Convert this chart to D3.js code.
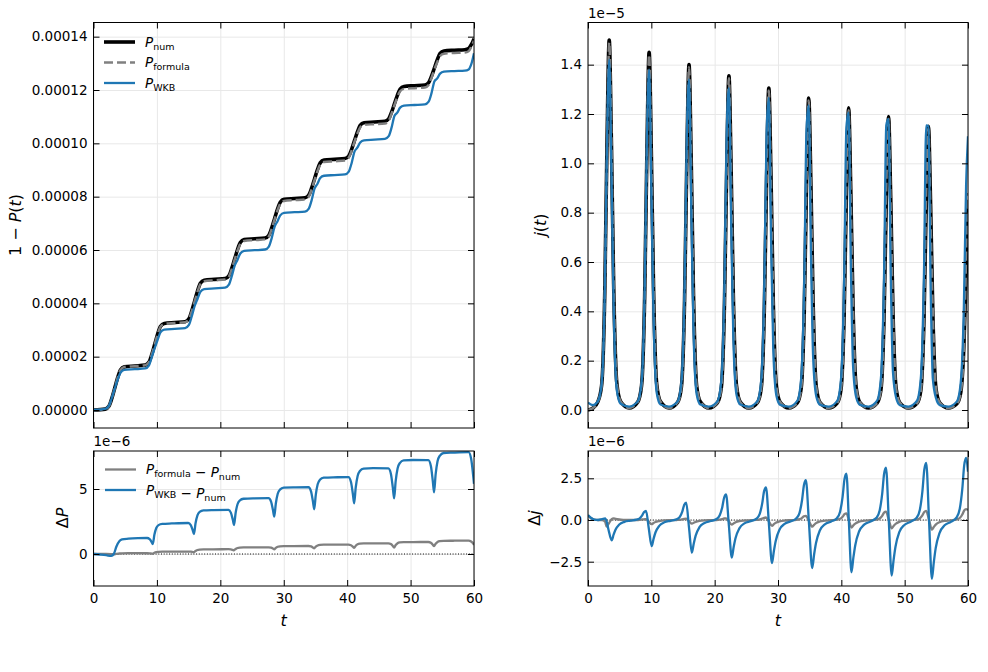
<!DOCTYPE html>
<html>
<head>
<meta charset="utf-8">
<script src="https://cdn.jsdelivr.net/npm/d3@7"></script>
<style>
  body { margin: 0; background: #fff; }
  svg text { font-family: "DejaVu Sans", sans-serif; fill: #000; }
</style>
</head>
<body>
<svg id="fig" width="988" height="672"></svg>
<script>
// ---- data ----
// survival 1-P(t), in units of 1e-5
const pTime = [0, 1.85, 2.45, 2.9, 3.35, 3.8, 4.25, 4.85, 6.5,
  8.15, 8.75, 9.2, 9.65, 10.1, 10.55, 11.15, 12.8,
  14.45, 15.05, 15.5, 15.95, 16.4, 16.85, 17.45, 19.1,
  20.75, 21.35, 21.8, 22.25, 22.7, 23.15, 23.75, 25.4,
  27.05, 27.65, 28.1, 28.55, 29.0, 29.45, 30.05, 31.7,
  33.35, 33.95, 34.4, 34.85, 35.3, 35.75, 36.35, 38.0,
  39.65, 40.25, 40.7, 41.15, 41.6, 42.05, 42.65, 44.3,
  45.95, 46.55, 47.0, 47.45, 47.9, 48.35, 48.95, 50.6,
  52.25, 52.85, 53.3, 53.75, 54.2, 54.65, 55.25, 56.9,
  58.55, 59.15, 59.6, 60.0];
const pNum = [0, 0.033, 0.149, 0.446, 0.825, 1.205, 1.502, 1.617, 1.65,
  1.683, 1.797, 2.09, 2.465, 2.84, 3.133, 3.247, 3.28,
  3.312, 3.426, 3.717, 4.09, 4.463, 4.754, 4.868, 4.90,
  4.93, 5.037, 5.31, 5.66, 6.01, 6.283, 6.39, 6.42,
  6.45, 6.556, 6.828, 7.175, 7.522, 7.794, 7.9, 7.93,
  7.959, 8.062, 8.327, 8.665, 9.003, 9.268, 9.371, 9.40,
  9.428, 9.526, 9.778, 10.1, 10.422, 10.674, 10.772, 10.80,
  10.827, 10.922, 11.167, 11.48, 11.793, 12.038, 12.133, 12.16,
  12.187, 12.28, 12.519, 12.825, 13.131, 13.37, 13.463, 13.49,
  13.51, 13.555, 13.71, 13.92];
const pFormula = [0, 0.033, 0.149, 0.446, 0.825, 1.203, 1.497, 1.611, 1.644,
  1.677, 1.792, 2.087, 2.455, 2.826, 3.116, 3.229, 3.262,
  3.294, 3.408, 3.703, 4.072, 4.436, 4.72, 4.832, 4.864,
  4.894, 5.002, 5.282, 5.628, 5.965, 6.233, 6.339, 6.369,
  6.399, 6.508, 6.789, 7.14, 7.475, 7.739, 7.84, 7.869,
  7.898, 8.004, 8.282, 8.621, 8.945, 9.203, 9.3, 9.328,
  9.356, 9.457, 9.722, 10.053, 10.359, 10.597, 10.691, 10.718,
  10.745, 10.844, 11.112, 11.43, 11.724, 11.953, 12.042, 12.068,
  12.095, 12.19, 12.455, 12.765, 13.04, 13.275, 13.362, 13.388,
  13.407, 13.452, 13.625, 13.85];
const pWkb = [0, 0.041, 0.161, 0.459, 0.805, 1.125, 1.397, 1.502, 1.529,
  1.56, 1.677, 1.995, 2.317, 2.625, 2.907, 3.014, 3.044,
  3.073, 3.189, 3.517, 3.90, 4.163, 4.429, 4.533, 4.562,
  4.589, 4.702, 5.017, 5.404, 5.627, 5.871, 5.965, 5.992,
  6.019, 6.13, 6.447, 6.868, 7.072, 7.298, 7.39, 7.417,
  7.443, 7.552, 7.871, 8.299, 8.478, 8.698, 8.784, 8.81,
  8.834, 8.94, 9.255, 9.686, 9.836, 10.035, 10.115, 10.14,
  10.165, 10.269, 10.587, 11.025, 11.151, 11.338, 11.413, 11.437,
  11.461, 11.564, 11.881, 12.323, 12.435, 12.614, 12.686, 12.71,
  12.728, 12.772, 12.99, 13.38];

// Delta P, units of 1e-6
const dPTime = [0, 1.0, 2.0, 2.8, 3.2, 3.6, 4.1, 4.5, 5.5, 7.0,
  8.45, 8.85, 9.15, 9.35, 9.6, 9.9, 10.25, 10.85, 12.35,
  14.94, 15.34, 15.64, 15.84, 16.09, 16.39, 16.74, 17.34, 18.84,
  21.26, 21.66, 21.96, 22.16, 22.41, 22.71, 23.06, 23.66, 25.16,
  27.6, 28.0, 28.3, 28.5, 28.75, 29.05, 29.4, 30.0, 31.5,
  33.9, 34.3, 34.6, 34.8, 35.05, 35.35, 35.7, 36.3, 37.8,
  40.2, 40.6, 40.9, 41.1, 41.35, 41.65, 42.0, 42.6, 44.1,
  46.5, 46.9, 47.2, 47.4, 47.65, 47.95, 48.3, 48.9, 50.4,
  52.8, 53.2, 53.5, 53.7, 53.95, 54.25, 54.6, 55.2, 56.7,
  59.15, 59.55, 59.85, 60.0];
const dPFormula = [0, 0, 0, -0.01, -0.02, 0.01, 0.04, 0.05, 0.06, 0.06,
  0.059, 0.052, 0.034, 0.02, 0.092, 0.145, 0.167, 0.175, 0.18,
  0.189, 0.178, 0.151, 0.13, 0.234, 0.309, 0.342, 0.355, 0.36,
  0.368, 0.352, 0.312, 0.28, 0.384, 0.459, 0.492, 0.505, 0.51,
  0.517, 0.488, 0.416, 0.36, 0.473, 0.555, 0.59, 0.605, 0.61,
  0.616, 0.584, 0.503, 0.44, 0.566, 0.658, 0.698, 0.715, 0.72,
  0.725, 0.678, 0.561, 0.47, 0.628, 0.743, 0.792, 0.815, 0.82,
  0.823, 0.764, 0.616, 0.5, 0.689, 0.828, 0.886, 0.91, 0.92,
  0.923, 0.864, 0.716, 0.6, 0.789, 0.928, 0.986, 1.01, 1.02,
  1.03, 0.96, 0.82, 0.7];
const dPWkb = [0, -0.04, -0.09, -0.15, 0.0, 0.56, 1.0, 1.12, 1.18, 1.22,
  1.23, 1.146, 0.934, 0.77, 1.481, 2.002, 2.224, 2.32, 2.35,
  2.383, 2.228, 1.841, 1.54, 2.368, 2.975, 3.233, 3.35, 3.38,
  3.396, 3.182, 2.647, 2.23, 3.153, 3.829, 4.116, 4.25, 4.28,
  4.291, 4.03, 3.378, 2.87, 3.887, 4.633, 4.949, 5.10, 5.13,
  5.135, 4.824, 4.045, 3.44, 4.547, 5.359, 5.703, 5.87, 5.9,
  5.909, 5.54, 4.618, 3.9, 5.115, 6.006, 6.384, 6.57, 6.6,
  6.583, 6.16, 5.103, 4.28, 5.608, 6.581, 6.994, 7.2, 7.23,
  7.219, 6.764, 5.626, 4.74, 6.117, 7.127, 7.555, 7.77, 7.8,
  7.83, 7.32, 6.13, 5.4];

// current j(t), units of 1e-5
const jTime = [0, 0.8, 1.55, 2.15, 2.65, 3.0, 3.35, 3.7, 4.05, 4.55, 5.15, 6.5,
  7.85, 8.45, 8.95, 9.3, 9.65, 10.0, 10.35, 10.85, 11.45, 12.8,
  14.15, 14.75, 15.25, 15.6, 15.95, 16.3, 16.65, 17.15, 17.75, 19.1,
  20.45, 21.05, 21.55, 21.9, 22.25, 22.6, 22.95, 23.45, 24.05, 25.4,
  26.75, 27.35, 27.85, 28.2, 28.55, 28.9, 29.25, 29.75, 30.35, 31.7,
  33.05, 33.65, 34.15, 34.5, 34.85, 35.2, 35.55, 36.05, 36.65, 38.0,
  39.35, 39.95, 40.45, 40.8, 41.15, 41.5, 41.85, 42.35, 42.95, 44.3,
  45.65, 46.25, 46.75, 47.1, 47.45, 47.8, 48.15, 48.65, 49.25, 50.6,
  51.95, 52.55, 53.05, 53.4, 53.75, 54.1, 54.45, 54.95, 55.55, 56.9,
  58.25, 58.85, 59.35, 59.7, 60.0];
const jNum = [0.0, 0.008, 0.033, 0.1, 0.48, 1.08, 1.50, 1.08, 0.51, 0.11, 0.035, 0.008,
  0.032, 0.097, 0.464, 1.044, 1.45, 1.044, 0.493, 0.105, 0.034, 0.008,
  0.031, 0.094, 0.448, 1.008, 1.40, 1.008, 0.476, 0.1, 0.033, 0.008,
  0.03, 0.091, 0.434, 0.976, 1.355, 0.976, 0.461, 0.098, 0.032, 0.008,
  0.03, 0.088, 0.418, 0.94, 1.305, 0.94, 0.444, 0.095, 0.031, 0.008,
  0.029, 0.086, 0.405, 0.911, 1.265, 0.911, 0.43, 0.092, 0.03, 0.008,
  0.028, 0.084, 0.392, 0.882, 1.225, 0.882, 0.417, 0.09, 0.03, 0.008,
  0.028, 0.081, 0.381, 0.857, 1.19, 0.857, 0.405, 0.088, 0.029, 0.008,
  0.027, 0.079, 0.368, 0.828, 1.15, 0.828, 0.391, 0.085, 0.029, 0.008,
  0.025, 0.07, 0.26, 0.55, 0.82];
const jFormula = [0.0, 0.008, 0.033, 0.1, 0.48, 1.04, 1.49, 1.09, 0.51, 0.11, 0.035, 0.008,
  0.032, 0.097, 0.464, 1.049, 1.44, 1.019, 0.493, 0.105, 0.034, 0.008,
  0.031, 0.094, 0.448, 1.018, 1.39, 0.986, 0.476, 0.1, 0.033, 0.008,
  0.03, 0.091, 0.434, 0.986, 1.345, 0.946, 0.461, 0.098, 0.032, 0.008,
  0.03, 0.088, 0.418, 0.955, 1.295, 0.905, 0.444, 0.095, 0.031, 0.008,
  0.029, 0.086, 0.405, 0.936, 1.255, 0.871, 0.43, 0.092, 0.03, 0.008,
  0.028, 0.084, 0.392, 0.922, 1.215, 0.837, 0.417, 0.09, 0.03, 0.008,
  0.028, 0.081, 0.381, 0.907, 1.18, 0.807, 0.405, 0.088, 0.029, 0.008,
  0.027, 0.079, 0.368, 0.883, 1.14, 0.77, 0.391, 0.085, 0.029, 0.008,
  0.025, 0.07, 0.26, 0.615, 0.88];
const jWkb = [0.03, 0.02, 0.035, 0.105, 0.485, 1.085, 1.42, 0.968, 0.418, 0.08, 0.025, 0.014,
  0.035, 0.11, 0.494, 1.096, 1.38, 0.9, 0.375, 0.07, 0.022, 0.014,
  0.035, 0.115, 0.505, 1.107, 1.34, 0.828, 0.329, 0.065, 0.022, 0.014,
  0.036, 0.12, 0.518, 1.121, 1.305, 0.769, 0.292, 0.062, 0.022, 0.014,
  0.036, 0.12, 0.526, 1.126, 1.265, 0.702, 0.25, 0.058, 0.021, 0.014,
  0.037, 0.125, 0.536, 1.138, 1.235, 0.646, 0.214, 0.055, 0.021, 0.014,
  0.037, 0.125, 0.545, 1.146, 1.205, 0.593, 0.181, 0.052, 0.021, 0.014,
  0.038, 0.128, 0.554, 1.155, 1.18, 0.551, 0.155, 0.05, 0.02, 0.014,
  0.038, 0.128, 0.557, 1.154, 1.15, 0.503, 0.126, 0.048, 0.02, 0.014,
  0.035, 0.11, 0.42, 0.91, 1.11];

// Delta j, units of 1e-6
const dJTime = [0, 0.5, 1.0, 1.6, 2.2, 2.7, 2.95, 3.22, 3.74, 4.04, 4.34, 4.94, 5.74, 6.74,
  7.66, 8.16, 8.56, 8.86, 9.16, 9.6, 10.05, 10.35, 10.65, 11.25, 12.05, 13.05,
  14.0, 14.5, 14.9, 15.2, 15.5, 15.95, 16.4, 16.7, 17.0, 17.6, 18.4, 19.4,
  20.3, 20.8, 21.2, 21.5, 21.8, 22.25, 22.7, 23.0, 23.3, 23.9, 24.7, 25.7,
  26.6, 27.1, 27.5, 27.8, 28.1, 28.58, 29.05, 29.35, 29.65, 30.25, 31.05, 32.05,
  32.9, 33.4, 33.8, 34.1, 34.4, 34.9, 35.4, 35.7, 36.0, 36.6, 37.4, 38.4,
  39.3, 39.8, 40.2, 40.5, 40.8, 41.2, 41.6, 41.9, 42.2, 42.8, 43.6, 44.6,
  45.55, 46.05, 46.45, 46.75, 47.05, 47.5, 47.95, 48.25, 48.55, 49.15, 49.95, 50.95,
  51.9, 52.4, 52.8, 53.1, 53.4, 53.85, 54.3, 54.6, 54.9, 55.5, 56.3, 57.3,
  58.2, 58.7, 59.1, 59.4, 59.7, 60.0];
const dJFormula = [0.25, 0.1, 0.02, 0.0, 0.0, -0.1, -0.4, -0.25, 0.05, 0.1, 0.07, 0.03, 0.01, 0.0,
  0, 0.01, 0.03, 0.04, 0.05, -0.1, -0.25, -0.18, -0.12, -0.06, -0.02, -0.01,
  0, 0.01, 0.04, 0.07, 0.08, -0.07, -0.22, -0.16, -0.11, -0.05, -0.02, -0.01,
  0, 0.02, 0.05, 0.09, 0.1, -0.09, -0.28, -0.2, -0.13, -0.06, -0.03, -0.01,
  0.01, 0.03, 0.08, 0.13, 0.15, -0.1, -0.35, -0.25, -0.17, -0.08, -0.03, -0.01,
  0.01, 0.05, 0.13, 0.22, 0.25, -0.07, -0.4, -0.29, -0.19, -0.09, -0.04, -0.01,
  0.02, 0.07, 0.2, 0.35, 0.4, -0.02, -0.45, -0.32, -0.22, -0.1, -0.04, -0.01,
  0.02, 0.09, 0.25, 0.44, 0.5, 0, -0.5, -0.36, -0.24, -0.11, -0.05, -0.02,
  0.02, 0.1, 0.28, 0.48, 0.55, 0, -0.58, -0.42, -0.28, -0.13, -0.05, -0.02,
  0.03, 0.12, 0.33, 0.57, 0.65, 0.6];
const dJWkb = [0.3, 0.12, 0.02, 0.0, 0.05, 0.1, -0.1, -0.55, -1.22, -0.88, -0.59, -0.27, -0.11, -0.04,
  0.02, 0.1, 0.28, 0.48, 0.55, -0.51, -1.57, -1.13, -0.75, -0.35, -0.14, -0.05,
  0.04, 0.19, 0.52, 0.92, 1.04, -0.46, -1.96, -1.41, -0.94, -0.43, -0.18, -0.06,
  0.06, 0.28, 0.77, 1.35, 1.53, -0.36, -2.25, -1.62, -1.08, -0.5, -0.2, -0.07,
  0.08, 0.35, 0.98, 1.72, 1.96, -0.32, -2.59, -1.86, -1.24, -0.57, -0.23, -0.08,
  0.1, 0.43, 1.2, 2.1, 2.39, -0.25, -2.88, -2.07, -1.38, -0.63, -0.26, -0.09,
  0.11, 0.5, 1.39, 2.45, 2.78, -0.18, -3.14, -2.26, -1.51, -0.69, -0.28, -0.09,
  0.13, 0.57, 1.57, 2.76, 3.14, -0.1, -3.33, -2.4, -1.6, -0.73, -0.3, -0.1,
  0.14, 0.62, 1.72, 3.02, 3.43, -0.05, -3.53, -2.54, -1.69, -0.78, -0.32, -0.11,
  0.15, 0.67, 1.86, 3.27, 3.72, 2.9];

// ticks
const tTicks = [0, 10, 20, 30, 40, 50, 60];
const pTicks = [0, 2, 4, 6, 8, 10, 12, 14];
const dPTicks = [0, 5];
const jTicks = [0, 0.2, 0.4, 0.6, 0.8, 1.0, 1.2, 1.4];
const dJTicks = [-2.5, 0, 2.5];

// ---- layout ----
const svg = d3.select("#fig");
const colNum = "#000000", colFormula = "#808080", colWkb = "#1f77b4";
const FS = 13.5;

const boxes = {
  pTop:  {x0: 93.5, x1: 474, y0: 22.5, y1: 428},
  pBot:  {x0: 93.5, x1: 474, y0: 451, y1: 586},
  jTop:  {x0: 588, x1: 968, y0: 22.5, y1: 428},
  jBot:  {x0: 588, x1: 968, y0: 451, y1: 586}
};

const xL = d3.scaleLinear().domain([0, 60]).range([boxes.pTop.x0, boxes.pTop.x1]);
const xR = d3.scaleLinear().domain([0, 60]).range([boxes.jTop.x0, boxes.jTop.x1]);
const yP = d3.scaleLinear().domain([0, 14]).range([410, 36.67]);
const yDP = d3.scaleLinear().domain([0, 5]).range([554, 489]);
const yJ = d3.scaleLinear().domain([0, 1.4]).range([410, 64.67]);
const yDJ = d3.scaleLinear().domain([0, 2.5]).range([520, 478.3]);

function panel(id, box, x, y, yTicks, yFmt, showX) {
  const g = svg.append("g").attr("id", id);
  const w = box.x1 - box.x0, h = box.y1 - box.y0;
  svg.append("clipPath").attr("id", "clip-" + id)
    .append("rect").attr("x", box.x0).attr("y", box.y0).attr("width", w).attr("height", h);

  // grid
  const grid = g.append("g").attr("class", "grid");
  grid.append("g").attr("transform", `translate(0,${box.y1})`)
    .call(d3.axisBottom(x).tickValues(tTicks).tickSize(-h).tickFormat(""));
  grid.append("g").attr("transform", `translate(${box.x0},0)`)
    .call(d3.axisLeft(y).tickValues(yTicks).tickSize(-w).tickFormat(""));
  grid.selectAll(".domain").remove();
  grid.selectAll("line").attr("stroke", "#e8e8e8").attr("stroke-width", 1);

  const plot = g.append("g").attr("clip-path", `url(#clip-${id})`);

  // axes with inward ticks
  const ax = g.append("g");
  ax.append("g").attr("transform", `translate(0,${box.y1})`)
    .call(d3.axisBottom(x).tickValues(tTicks).tickSize(-6).tickPadding(7)
      .tickFormat(showX ? d3.format("d") : ""));
  ax.append("g").attr("transform", `translate(0,${box.y0})`)
    .call(d3.axisTop(x).tickValues(tTicks).tickSize(-6).tickFormat(""));
  ax.append("g").attr("transform", `translate(${box.x0},0)`)
    .call(d3.axisLeft(y).tickValues(yTicks).tickSize(-6).tickPadding(6).tickFormat(yFmt));
  ax.append("g").attr("transform", `translate(${box.x1},0)`)
    .call(d3.axisRight(y).tickValues(yTicks).tickSize(-6).tickFormat(""));
  ax.selectAll(".domain").remove();
  ax.selectAll(".tick line").attr("stroke", "#000").attr("stroke-width", 1);
  ax.selectAll(".tick text").attr("font-size", FS).attr("font-family", "DejaVu Sans");

  g.append("rect").attr("x", box.x0).attr("y", box.y0).attr("width", w).attr("height", h)
    .attr("fill", "none").attr("stroke", "#000").attr("stroke-width", 1);
  return plot;
}

function drawLine(plot, x, y, ts, vs, color, width, dash) {
  const pts = ts.map((t, i) => [t, vs[i]]);
  const line = d3.line().x(d => x(d[0])).y(d => y(d[1])).curve(d3.curveMonotoneX);
  plot.append("path").datum(pts).attr("d", line)
    .attr("fill", "none").attr("stroke", color).attr("stroke-width", width)
    .attr("stroke-linejoin", "round")
    .attr("stroke-dasharray", dash || null);
}

function zeroLine(plot, x, y) {
  plot.append("line").attr("x1", x(0)).attr("x2", x(60)).attr("y1", y(0)).attr("y2", y(0))
    .attr("stroke", "#000").attr("stroke-width", 1).attr("stroke-dasharray", "1,1.7");
}

// top-left: 1 - P(t)
const gP = panel("pTop", boxes.pTop, xL, yP, pTicks, d => (d * 1e-5).toFixed(5), false);
drawLine(gP, xL, yP, pTime, pNum, colNum, 3.6);
drawLine(gP, xL, yP, pTime, pFormula, colFormula, 2.5, "9,4");
drawLine(gP, xL, yP, pTime, pWkb, colWkb, 2.3);

// bottom-left: Delta P
const gDP = panel("pBot", boxes.pBot, xL, yDP, dPTicks, d3.format("d"), true);
zeroLine(gDP, xL, yDP);
drawLine(gDP, xL, yDP, dPTime, dPFormula, colFormula, 2.3);
drawLine(gDP, xL, yDP, dPTime, dPWkb, colWkb, 2.3);

// top-right: j(t)
const gJ = panel("jTop", boxes.jTop, xR, yJ, jTicks, d3.format(".1f"), false);
drawLine(gJ, xR, yJ, jTime, jNum, colNum, 3.6);
drawLine(gJ, xR, yJ, jTime, jFormula, colFormula, 2.5, "9,4");
drawLine(gJ, xR, yJ, jTime, jWkb, colWkb, 2.3);

// bottom-right: Delta j
const gDJ = panel("jBot", boxes.jBot, xR, yDJ, dJTicks, d3.format(".1f"), true);
zeroLine(gDJ, xR, yDJ);
drawLine(gDJ, xR, yDJ, dJTime, dJFormula, colFormula, 2.3);
drawLine(gDJ, xR, yDJ, dJTime, dJWkb, colWkb, 2.3);

// ---- text: offsets, axis labels ----
svg.append("text").attr("x", boxes.jTop.x0).attr("y", 17.5).attr("font-size", FS).text("1e\u22125");
svg.append("text").attr("x", boxes.pBot.x0).attr("y", 446).attr("font-size", FS).text("1e\u22126");
svg.append("text").attr("x", boxes.jBot.x0).attr("y", 446).attr("font-size", FS).text("1e\u22126");

function mathLabel(x, y, parts, rotate) {
  const t = svg.append("text").attr("font-size", 16).attr("text-anchor", "middle")
    .attr("transform", `translate(${x},${y})` + (rotate ? " rotate(-90)" : ""));
  parts.forEach(p => t.append("tspan").attr("font-style", p[1] ? "italic" : "normal").text(p[0]));
  return t;
}
mathLabel(21, 225, [["1 \u2212 ", false], ["P", true], ["(", false], ["t", true], [")", false]], true);
mathLabel(546, 225, [["j", true], ["(", false], ["t", true], [")", false]], true);
mathLabel(68, 518, [["\u0394", false], ["P", true]], true);
mathLabel(540, 518, [["\u0394", false], ["j", true]], true);
mathLabel(xL(30), 626, [["t", true]], false);
mathLabel(xR(30), 626, [["t", true]], false);

// ---- legends ----
function legendItem(x, y, color, width, dash, build) {
  svg.append("line").attr("x1", x).attr("x2", x + 31).attr("y1", y).attr("y2", y)
    .attr("stroke", color).attr("stroke-width", width).attr("stroke-dasharray", dash || null);
  const t = svg.append("text").attr("x", x + 41).attr("y", y + 4.5).attr("font-size", FS);
  build(t);
}
function sym(t, name, sub) {
  t.append("tspan").attr("font-style", "italic").text(name);
  t.append("tspan").attr("font-size", 9.5).attr("dy", 3).text(sub);
  t.append("tspan").attr("dy", -3).text("");
}
legendItem(104, 42, colNum, 3.6, null, t => sym(t, "P", "num"));
legendItem(104, 62.5, colFormula, 2.5, "9,4", t => sym(t, "P", "formula"));
legendItem(104, 83, colWkb, 2.3, null, t => sym(t, "P", "WKB"));

legendItem(105, 469.5, colFormula, 2.3, null, t => {
  sym(t, "P", "formula"); t.append("tspan").text(" \u2212 "); sym(t, "P", "num");
});
legendItem(105, 490, colWkb, 2.3, null, t => {
  sym(t, "P", "WKB"); t.append("tspan").text(" \u2212 "); sym(t, "P", "num");
});
</script>
</body>
</html>
